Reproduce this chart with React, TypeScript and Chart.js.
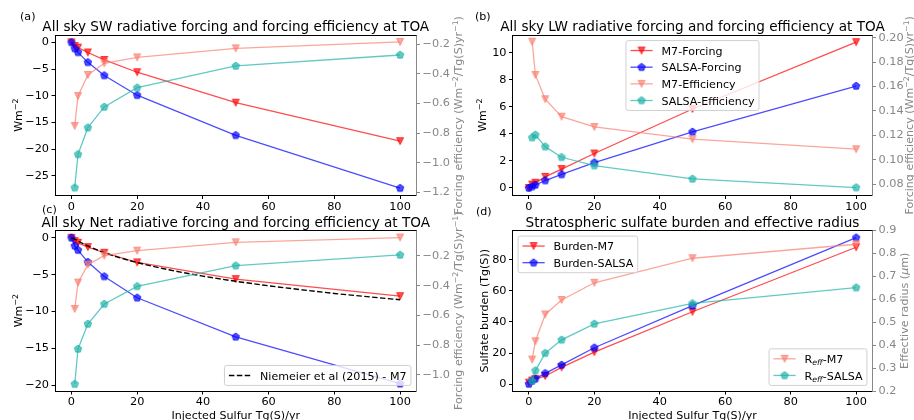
import React, { useEffect, useRef } from "react";
import { Chart, registerables } from "chart.js";

Chart.register(...registerables);

// ---------------- DATA ----------------
const injection = [0, 1, 2, 5, 10, 20, 50, 100];
const injectionEff = [1, 2, 5, 10, 20, 50, 100];

// (a) SW
const swM7Forcing = [0, -0.7, -1.0, -1.9, -3.3, -5.6, -11.3, -18.5];
const swSalsaForcing = [0, -1.15, -1.88, -3.75, -6.2, -9.9, -17.4, -27.3];
const swM7Eff = [-0.751, -0.549, -0.407, -0.328, -0.288, -0.227, -0.184];
const swSalsaEff = [-1.168, -0.943, -0.763, -0.623, -0.493, -0.346, -0.272];

// (b) LW
const lwM7Forcing = [0, 0.25, 0.38, 0.82, 1.4, 2.55, 5.85, 10.8];
const lwSalsaForcing = [0, 0.1, 0.22, 0.55, 1.0, 1.88, 4.15, 7.55];
const lwM7Eff = [0.1967, 0.1695, 0.1496, 0.1353, 0.1269, 0.1169, 0.1087];
const lwSalsaEff = [0.1182, 0.1204, 0.1108, 0.1021, 0.0953, 0.0844, 0.0773];

// (c) Net
const netM7Forcing = [0, -0.45, -0.68, -1.26, -2.03, -3.34, -5.6, -7.92];
const netSalsaForcing = [0, -1.09, -1.67, -3.3, -5.25, -8.14, -13.44, -19.8];
const netM7Eff = [-0.556, -0.379, -0.258, -0.198, -0.164, -0.108, -0.076];
const netSalsaEff = [-1.061, -0.825, -0.657, -0.523, -0.404, -0.265, -0.193];
const niemeierX = [0, 1, 2, 5, 10, 15, 20, 30, 40, 50, 60, 70, 80, 90, 100];
const niemeierForcing = [0, -0.18, -0.43, -1.11, -2.01, -2.74, -3.36, -4.37, -5.2, -5.9, -6.51, -7.05, -7.55, -7.99, -8.4];

// (d) Burden / radius
const burdenM7 = [0.9, 2.2, 3.2, 5.2, 10.7, 20.6, 46.6, 88.2];
const burdenSalsa = [0, 2.1, 3.4, 6.9, 12.3, 23.4, 50.5, 94.4];
const reffM7 = [0.337, 0.417, 0.534, 0.597, 0.672, 0.779, 0.84];
const reffSalsa = [0.244, 0.289, 0.365, 0.423, 0.493, 0.582, 0.651];

// tick values
const xTicks = [0, 20, 40, 60, 80, 100];
const aLeftTicks = [0, -5, -10, -15, -20, -25];
const aRightTicks = [-0.2, -0.4, -0.6, -0.8, -1.0, -1.2];
const bLeftTicks = [0, 2, 4, 6, 8, 10];
const bRightTicks = [0.08, 0.1, 0.12, 0.14, 0.16, 0.18, 0.2];
const cLeftTicks = [0, -5, -10, -15, -20];
const cRightTicks = [-0.2, -0.4, -0.6, -0.8, -1.0];
const dLeftTicks = [0, 20, 40, 60, 80];
const dRightTicks = [0.2, 0.3, 0.4, 0.5, 0.6, 0.7, 0.8, 0.9];

// texts
type Seg = { t: string; sup?: boolean; sub?: boolean; it?: boolean };
const titleA = "All sky SW radiative forcing and forcing efficiency at TOA";
const titleB = "All sky LW radiative forcing and forcing efficiency at TOA";
const titleC = "All sky Net radiative forcing and forcing efficiency at TOA";
const titleD = "Stratospheric sulfate burden and effective radius";
const wmTitle: Seg[] = [{ t: "Wm" }, { t: "−2", sup: true }];
const effTitle: Seg[] = [
  { t: "Forcing efficiency (Wm" },
  { t: "−2", sup: true },
  { t: "/Tg(S)yr" },
  { t: "−1", sup: true },
  { t: ")" },
];
const burdenTitle: Seg[] = [{ t: "Sulfate burden (Tg(S))" }];
const radiusTitle: Seg[] = [{ t: "Effective radius (" }, { t: "μ", it: true }, { t: "m)" }];
const xTitle: Seg[] = [{ t: "Injected Sulfur Tg(S)/yr" }];
const lblM7F: Seg[] = [{ t: "M7-Forcing" }];
const lblSaF: Seg[] = [{ t: "SALSA-Forcing" }];
const lblM7E: Seg[] = [{ t: "M7-Efficiency" }];
const lblSaE: Seg[] = [{ t: "SALSA-Efficiency" }];
const lblNiem: Seg[] = [{ t: "Niemeier et al (2015) - M7" }];
const lblBM7: Seg[] = [{ t: "Burden-M7" }];
const lblBSa: Seg[] = [{ t: "Burden-SALSA" }];
const lblRM7: Seg[] = [{ t: "R" }, { t: "eff", sub: true, it: true }, { t: "-M7" }];
const lblRSa: Seg[] = [{ t: "R" }, { t: "eff", sub: true, it: true }, { t: "-SALSA" }];

// ---------------- STYLE ----------------
const W = 914;
const H = 420;
const FONT = '"DejaVu Sans", "Liberation Sans", sans-serif';
const F = 11.1; // base font
const TICK_F = 11.3;
const TITLE_F = 13.6;
const GRAY = "#888888";
const RED = "rgba(255,0,0,0.7)";
const BLUE = "rgba(0,0,255,0.7)";
const SALMON = "rgba(250,128,114,0.7)";
const TEAL = "rgba(32,178,170,0.7)";

type Shape = "tri" | "pent" | "none";
const markerCache: Record<string, HTMLCanvasElement> = {};
function marker(shape: Shape, color: string): HTMLCanvasElement {
  const key = shape + color;
  if (markerCache[key]) return markerCache[key];
  const c = document.createElement("canvas");
  c.width = 16;
  c.height = 16;
  const g = c.getContext("2d")!;
  g.beginPath();
  if (shape === "tri") {
    const h = 3.5;
    g.moveTo(8 - h, 8 - h);
    g.lineTo(8 + h, 8 - h);
    g.lineTo(8, 8 + h);
  } else {
    const R = 3.9;
    for (let k = 0; k < 5; k++) {
      const a = -Math.PI / 2 + (k * 2 * Math.PI) / 5;
      const px = 8 + R * Math.cos(a);
      const py = 8 + R * Math.sin(a);
      if (k === 0) g.moveTo(px, py);
      else g.lineTo(px, py);
    }
  }
  g.closePath();
  g.fillStyle = color;
  g.fill();
  g.lineWidth = 1;
  g.strokeStyle = color;
  g.lineJoin = "miter";
  g.stroke();
  markerCache[key] = c;
  return c;
}

function fontFor(s: Seg, size: number) {
  const sz = s.sup || s.sub ? size * 0.7 : size;
  return `${s.it ? "italic " : ""}${sz}px ${FONT}`;
}
function richWidth(ctx: CanvasRenderingContext2D, segs: Seg[], size: number) {
  let w = 0;
  for (const s of segs) {
    ctx.font = fontFor(s, size);
    w += ctx.measureText(s.t).width;
  }
  return w;
}
function drawRich(
  ctx: CanvasRenderingContext2D,
  segs: Seg[],
  x: number,
  y: number,
  size: number,
  color: string,
  rot: number,
  align: "left" | "center"
) {
  ctx.save();
  ctx.translate(x, y);
  if (rot) ctx.rotate(rot);
  const w = richWidth(ctx, segs, size);
  let cx = align === "center" ? -w / 2 : 0;
  ctx.fillStyle = color;
  ctx.textBaseline = "alphabetic";
  ctx.textAlign = "left";
  for (const s of segs) {
    ctx.font = fontFor(s, size);
    const dy = s.sup ? -size * 0.4 : s.sub ? size * 0.2 : 0;
    ctx.fillText(s.t, cx, dy);
    cx += ctx.measureText(s.t).width;
  }
  ctx.restore();
}

type LegendItem = { label: Seg[]; color: string; shape: Shape; dash?: number[] };
type LegendSpec = { loc: "upper center" | "upper left" | "lower right"; items: LegendItem[] };

function drawLegend(ctx: CanvasRenderingContext2D, area: any, L: LegendSpec) {
  const f = F;
  const textW = Math.max(...L.items.map((it) => richWidth(ctx, it.label, f)));
  const w = 0.8 * f + 2 * f + 0.8 * f + textW;
  const n = L.items.length;
  const h = 0.8 * f + n * f + (n - 1) * 0.5 * f;
  const pad = 0.5 * f;
  let x0 = area.left + pad;
  let y0 = area.top + pad;
  if (L.loc === "upper center") {
    x0 = (area.left + area.right) / 2 - w / 2;
  } else if (L.loc === "lower right") {
    x0 = area.right - pad - w;
    y0 = area.bottom - pad - h;
  }
  ctx.save();
  ctx.beginPath();
  const r = 2.2;
  if ((ctx as any).roundRect) (ctx as any).roundRect(x0, y0, w, h, r);
  else ctx.rect(x0, y0, w, h);
  ctx.fillStyle = "rgba(255,255,255,0.8)";
  ctx.fill();
  ctx.lineWidth = 0.9;
  ctx.strokeStyle = "#cccccc";
  ctx.stroke();
  L.items.forEach((it, i) => {
    const cy = y0 + 0.4 * f + i * 1.5 * f + f / 2;
    const hx0 = x0 + 0.4 * f;
    const hx1 = hx0 + 2 * f;
    ctx.beginPath();
    ctx.setLineDash(it.dash || []);
    ctx.strokeStyle = it.color;
    ctx.lineWidth = it.dash ? 1.4 : 1.3;
    ctx.moveTo(hx0, cy);
    ctx.lineTo(hx1, cy);
    ctx.stroke();
    ctx.setLineDash([]);
    if (it.shape !== "none") {
      const img = marker(it.shape, it.color);
      ctx.drawImage(img, hx0 + f - 8, cy - 8);
    }
    drawRich(ctx, it.label, hx1 + 0.8 * f, cy + 0.37 * f, f, "#000", 0, "left");
  });
  ctx.restore();
}

type PanelSpec = {
  area: { l: number; r: number; t: number; b: number };
  label: string;
  labelPos: [number, number];
  title: string;
  leftTitle: Seg[];
  leftTitleX: number;
  rightTitle: Seg[];
  rightTitleX: number;
  xTitle?: Seg[];
  left: { min: number; max: number; ticks: number[]; dec: number };
  right: { min: number; max: number; ticks: number[]; dec: number };
  series: {
    xs: number[];
    ys: number[];
    color: string;
    shape: Shape;
    axis: "y" | "y1";
    dash?: number[];
  }[];
  legends: LegendSpec[];
};

const fmt = (v: number, d: number) => v.toFixed(d).replace("-", "−");

const decorPlugin = {
  id: "decor",
  afterDraw(chart: any, _args: any, opts: any) {
    const p: PanelSpec = opts.spec;
    const ctx: CanvasRenderingContext2D = chart.ctx;
    const a = chart.chartArea;
    ctx.save();
    // top spine
    const ty = Math.round(a.top - 0.5) + 0.5;
    ctx.beginPath();
    ctx.strokeStyle = "#000";
    ctx.lineWidth = 1;
    ctx.moveTo(a.left, ty);
    ctx.lineTo(a.right, ty);
    ctx.stroke();
    // legends
    p.legends.forEach((L) => drawLegend(ctx, a, L));
    // panel label
    drawRich(ctx, [{ t: p.label }], p.labelPos[0], p.labelPos[1], F, "#000", 0, "left");
    // title
    drawRich(ctx, [{ t: p.title }], (a.left + a.right) / 2, a.top - 4, TITLE_F, "#000", 0, "center");
    const cyMid = (a.top + a.bottom) / 2;
    drawRich(ctx, p.leftTitle, p.leftTitleX + 0.37 * F, cyMid, F, "#000", -Math.PI / 2, "center");
    drawRich(ctx, p.rightTitle, p.rightTitleX + 0.37 * F, cyMid, F, GRAY, -Math.PI / 2, "center");
    if (p.xTitle) {
      drawRich(ctx, p.xTitle, (a.left + a.right) / 2, 418.5, F, "#000", 0, "center");
    }
    ctx.restore();
  },
};

function makeConfig(p: PanelSpec): any {
  const YW = 40;
  const XH = 20;
  const padding = {
    left: p.area.l - YW,
    right: W - p.area.r - YW,
    top: p.area.t,
    bottom: H - p.area.b - XH,
  };
  const tickFont = { family: FONT, size: TICK_F };
  const datasets = p.series.map((s) => ({
    data: s.xs.map((x, i) => ({ x, y: s.ys[i] })),
    borderColor: s.color,
    borderWidth: s.dash ? 1.4 : 1.3,
    borderDash: s.dash || [],
    pointStyle: s.shape === "none" ? false : marker(s.shape, s.color),
    pointRadius: s.shape === "none" ? 0 : 4,
    pointHoverRadius: s.shape === "none" ? 0 : 4,
    yAxisID: s.axis,
    fill: false,
    tension: 0,
    cubicInterpolationMode: s.dash ? "monotone" : "default",
  }));
  const setTicks = (vals: number[]) => (ax: any) => {
    ax.ticks = vals.map((v) => ({ value: v }));
  };
  return {
    type: "line",
    data: { datasets },
    options: {
      animation: false,
      responsive: false,
      devicePixelRatio: 1,
      events: [],
      layout: { padding },
      plugins: {
        legend: { display: false },
        tooltip: { enabled: false },
        decor: { spec: p },
      },
      scales: {
        x: {
          type: "linear",
          min: -5,
          max: 105,
          afterBuildTicks: setTicks(xTicks),
          afterFit: (s: any) => {
            s.height = XH;
          },
          grid: { drawOnChartArea: false, tickLength: 3.5, tickColor: "#000", tickWidth: 1 },
          border: { color: "#000", width: 1 },
          ticks: {
            font: tickFont,
            color: "#000",
            padding: 1,
            autoSkip: false,
            maxRotation: 0,
            callback: (v: number) => fmt(v, 0),
          },
        },
        y: {
          type: "linear",
          position: "left",
          min: p.left.min,
          max: p.left.max,
          afterBuildTicks: setTicks(p.left.ticks),
          afterFit: (s: any) => {
            s.width = YW;
          },
          grid: { drawOnChartArea: false, tickLength: 3.5, tickColor: "#000", tickWidth: 1 },
          border: { color: "#000", width: 1 },
          ticks: {
            font: tickFont,
            color: "#000",
            padding: 2.5,
            autoSkip: false,
            callback: (v: number) => fmt(v, p.left.dec),
          },
        },
        y1: {
          type: "linear",
          position: "right",
          min: p.right.min,
          max: p.right.max,
          afterBuildTicks: setTicks(p.right.ticks),
          afterFit: (s: any) => {
            s.width = YW;
          },
          grid: { drawOnChartArea: false, tickLength: 3.5, tickColor: GRAY, tickWidth: 1 },
          border: { color: GRAY, width: 1 },
          ticks: {
            font: tickFont,
            color: GRAY,
            padding: 2.5,
            autoSkip: false,
            callback: (v: number) => fmt(v, p.right.dec),
          },
        },
      },
    },
    plugins: [decorPlugin],
  };
}

const AREA_A = { l: 55, r: 416.5, t: 35, b: 195.5 };
const AREA_B = { l: 512.5, r: 872.5, t: 35, b: 195.5 };
const AREA_C = { l: 55, r: 416.5, t: 230.5, b: 391 };
const AREA_D = { l: 512.5, r: 872.5, t: 230.5, b: 391 };

function buildSpecs(): PanelSpec[] {
  return [
    {
      area: AREA_A,
      label: "(a)",
      labelPos: [20, 19.5],
      title: titleA,
      leftTitle: wmTitle,
      leftTitleX: 18,
      rightTitle: effTitle,
      rightTitleX: 458,
      left: { min: -28.67, max: 1.37, ticks: aLeftTicks, dec: 0 },
      right: { min: -1.221, max: -0.137, ticks: aRightTicks, dec: 1 },
      series: [
        { xs: injectionEff, ys: swSalsaEff, color: TEAL, shape: "pent", axis: "y1" },
        { xs: injectionEff, ys: swM7Eff, color: SALMON, shape: "tri", axis: "y1" },
        { xs: injection, ys: swSalsaForcing, color: BLUE, shape: "pent", axis: "y" },
        { xs: injection, ys: swM7Forcing, color: RED, shape: "tri", axis: "y" },
      ],
      legends: [],
    },
    {
      area: AREA_B,
      label: "(b)",
      labelPos: [475, 19.5],
      title: titleB,
      leftTitle: wmTitle,
      leftTitleX: 482,
      rightTitle: effTitle,
      rightTitleX: 909,
      left: { min: -0.56, max: 11.33, ticks: bLeftTicks, dec: 0 },
      right: { min: 0.0708, max: 0.2022, ticks: bRightTicks, dec: 2 },
      series: [
        { xs: injectionEff, ys: lwSalsaEff, color: TEAL, shape: "pent", axis: "y1" },
        { xs: injectionEff, ys: lwM7Eff, color: SALMON, shape: "tri", axis: "y1" },
        { xs: injection, ys: lwSalsaForcing, color: BLUE, shape: "pent", axis: "y" },
        { xs: injection, ys: lwM7Forcing, color: RED, shape: "tri", axis: "y" },
      ],
      legends: [
        {
          loc: "upper center",
          items: [
            { label: lblM7F, color: RED, shape: "tri" },
            { label: lblSaF, color: BLUE, shape: "pent" },
            { label: lblM7E, color: SALMON, shape: "tri" },
            { label: lblSaE, color: TEAL, shape: "pent" },
          ],
        },
      ],
    },
    {
      area: AREA_C,
      label: "(c)",
      labelPos: [42, 213],
      title: titleC,
      leftTitle: wmTitle,
      leftTitleX: 18,
      rightTitle: effTitle,
      rightTitleX: 458,
      xTitle: xTitle,
      left: { min: -20.79, max: 0.99, ticks: cLeftTicks, dec: 0 },
      right: { min: -1.1076, max: -0.0286, ticks: cRightTicks, dec: 1 },
      series: [
        { xs: injectionEff, ys: netSalsaEff, color: TEAL, shape: "pent", axis: "y1" },
        { xs: injectionEff, ys: netM7Eff, color: SALMON, shape: "tri", axis: "y1" },
        { xs: niemeierX, ys: niemeierForcing, color: "#000", shape: "none", axis: "y", dash: [5.5, 2.4] },
        { xs: injection, ys: netSalsaForcing, color: BLUE, shape: "pent", axis: "y" },
        { xs: injection, ys: netM7Forcing, color: RED, shape: "tri", axis: "y" },
      ],
      legends: [
        {
          loc: "lower right",
          items: [{ label: lblNiem, color: "#000", shape: "none", dash: [5.5, 2.4] }],
        },
      ],
    },
    {
      area: AREA_D,
      label: "(d)",
      labelPos: [476, 215],
      title: titleD,
      leftTitle: burdenTitle,
      leftTitleX: 484,
      rightTitle: radiusTitle,
      rightTitleX: 904,
      xTitle: xTitle,
      left: { min: -4.5, max: 99.0, ticks: dLeftTicks, dec: 0 },
      right: { min: 0.2, max: 0.9, ticks: dRightTicks, dec: 1 },
      series: [
        { xs: injectionEff, ys: reffSalsa, color: TEAL, shape: "pent", axis: "y1" },
        { xs: injectionEff, ys: reffM7, color: SALMON, shape: "tri", axis: "y1" },
        { xs: injection, ys: burdenSalsa, color: BLUE, shape: "pent", axis: "y" },
        { xs: injection, ys: burdenM7, color: RED, shape: "tri", axis: "y" },
      ],
      legends: [
        {
          loc: "upper left",
          items: [
            { label: lblBM7, color: RED, shape: "tri" },
            { label: lblBSa, color: BLUE, shape: "pent" },
          ],
        },
        {
          loc: "lower right",
          items: [
            { label: lblRM7, color: SALMON, shape: "tri" },
            { label: lblRSa, color: TEAL, shape: "pent" },
          ],
        },
      ],
    },
  ];
}

function Panel({ index }: { index: number }) {
  const ref = useRef<HTMLCanvasElement>(null);
  useEffect(() => {
    const spec = buildSpecs()[index];
    const chart = new Chart(ref.current!, makeConfig(spec));
    return () => chart.destroy();
  }, [index]);
  return (
    <canvas
      ref={ref}
      width={W}
      height={H}
      style={{ position: "absolute", left: 0, top: 0, width: W, height: H }}
    />
  );
}

export default function App() {
  return (
    <div
      style={{
        position: "fixed",
        left: 0,
        top: 0,
        width: W,
        height: H,
        background: "#fff",
        overflow: "hidden",
      }}
    >
      {[0, 1, 2, 3].map((i) => (
        <Panel key={i} index={i} />
      ))}
    </div>
  );
}
